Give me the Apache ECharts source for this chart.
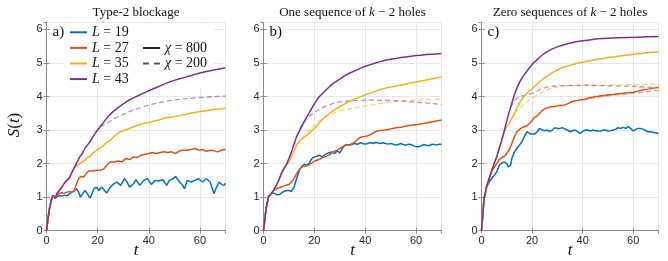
<!DOCTYPE html>
<html><head><meta charset="utf-8">
<script src="https://cdn.jsdelivr.net/npm/echarts@6/dist/echarts.min.js"></script>
<style>html,body{margin:0;padding:0;background:#fff}#c{width:668px;height:261px}</style>
</head><body><div id="c"></div>
<script>
// ---------- data (t, S(t)) ----------
const panelTitles = ['Type-2 blockage', 'One sequence of {i|k} \u2212 2 holes', 'Zero sequences of {i|k} \u2212 2 holes'];
const panelLabels = ['a)', 'b)', 'c)'];
const xTicks = [0, 20, 40, 60];
const yTicks = [0, 1, 2, 3, 4, 5, 6];
const sizes = ['L = 19', 'L = 27', 'L = 35', 'L = 43'];
const chiLabels = ['\u03c7 = 800', '\u03c7 = 200'];

// Panel a
const aL19 = [[0,0],[1,0.6],[2,0.95],[2.5,1.05],[3,1.02],[3.5,0.97],[4,1.0],[5,1.05],[6,1.03],[7,1.06],[8,1.04],[9,1.1],[10,1.15],[11,1.2],[11.8,1.25],[12.5,1.15],[13.3,1.0],[14,1.05],[15,1.2],[16,1.1],[17,0.97],[17.8,1.1],[18.5,1.25],[19.5,1.3],[20.5,1.2],[21.5,1.3],[22.5,1.22],[23.5,1.12],[24.5,1.25],[26,1.38],[27.5,1.45],[29,1.35],[30.5,1.55],[31.5,1.45],[32.5,1.3],[34,1.4],[35,1.52],[36.5,1.35],[38,1.5],[39.5,1.55],[41,1.38],[42.5,1.5],[44,1.48],[45.5,1.52],[47,1.35],[48,1.5],[49.5,1.55],[50.5,1.62],[51.5,1.5],[53,1.38],[54,1.25],[55,1.5],[56.5,1.45],[58,1.5],[59.5,1.55],[61,1.45],[62.5,1.55],[64,1.45],[65.5,1.1],[66.5,1.3],[67.5,1.45],[68.5,1.38],[69.5,1.35],[70,1.42]];
const aL27 = [[0,0],[1,0.6],[2,0.95],[2.5,1.05],[3,1.02],[3.5,0.97],[4,1.05],[5,1.12],[6,1.13],[7,1.12],[8,1.15],[9,1.17],[10,1.15],[10.8,1.18],[11.5,1.35],[12.5,1.55],[13.5,1.62],[14.5,1.6],[15.5,1.7],[16.5,1.78],[18,1.78],[19.5,1.8],[21,1.8],[22.5,1.85],[23.5,1.95],[25,2.05],[26.5,2.05],[28,2.08],[29.5,2.05],[31,2.15],[32.5,2.12],[34,2.2],[35.5,2.18],[37,2.25],[38.5,2.28],[40,2.3],[41.5,2.33],[43,2.3],[44.5,2.33],[46,2.35],[47.5,2.33],[49,2.35],[50.5,2.3],[52,2.38],[53.5,2.4],[55,2.4],[56.5,2.42],[58,2.45],[59.5,2.4],[61,2.42],[62.5,2.37],[64,2.4],[65.5,2.38],[67,2.35],[68.5,2.4],[70,2.43]];
const aL35 = [[0,0],[1,0.6],[2,0.95],[2.5,1.05],[3,1.02],[3.5,0.97],[4,1.1],[5,1.2],[6,1.3],[7,1.42],[8,1.5],[9,1.58],[10,1.75],[11,1.88],[12,1.95],[13,2.0],[14,2.05],[15,2.1],[16,2.17],[17,2.22],[18,2.3],[19,2.37],[20,2.42],[21,2.47],[22,2.52],[23,2.6],[24,2.65],[25,2.7],[26,2.78],[27,2.85],[28,2.9],[29,2.95],[30,2.98],[32,3.03],[34,3.1],[36,3.15],[38,3.2],[40,3.22],[42,3.27],[44,3.3],[46,3.35],[48,3.38],[50,3.4],[52,3.43],[54,3.46],[56,3.5],[58,3.52],[60,3.55],[62,3.57],[64,3.6],[66,3.62],[68,3.63],[70,3.65]];
const aL43 = [[0,0],[1,0.6],[2,0.95],[2.5,1.05],[3,1.02],[3.5,0.97],[4,1.1],[5,1.2],[6,1.3],[7,1.42],[8,1.5],[9,1.58],[10,1.75],[11,1.9],[12,2.05],[13,2.2],[14,2.3],[15,2.45],[16,2.55],[17,2.65],[18,2.78],[19,2.9],[20,3.0],[21,3.1],[22,3.2],[24,3.4],[26,3.55],[28,3.67],[30,3.78],[32,3.88],[34,3.96],[36,4.03],[38,4.1],[40,4.17],[42,4.24],[44,4.3],[46,4.37],[48,4.43],[50,4.48],[52,4.53],[54,4.57],[56,4.61],[58,4.66],[60,4.7],[62,4.74],[64,4.77],[66,4.8],[68,4.83],[70,4.86]];
const aL43chi200 = [[21,3.1],[22,3.14],[24,3.22],[26,3.32],[28,3.4],[30,3.47],[32,3.54],[34,3.6],[36,3.65],[38,3.7],[40,3.75],[43,3.8],[46,3.85],[50,3.9],[54,3.93],[58,3.96],[62,3.98],[66,4.0],[70,4.01]];

// Panel b
const bL19 = [[0,0],[1,0.65],[2,1.02],[3,1.1],[4,1.12],[5,1.08],[6,1.07],[7,1.12],[8,1.17],[9,1.2],[10,1.2],[11,1.17],[12,1.3],[13,1.55],[14,1.78],[15,1.92],[16,1.98],[17,1.95],[18,2.02],[19,2.15],[20,2.2],[21,2.22],[22,2.25],[23,2.2],[24,2.25],[25,2.3],[26,2.33],[27,2.35],[28,2.3],[29,2.38],[30,2.32],[31,2.45],[32,2.55],[33,2.57],[34,2.55],[35,2.58],[36,2.6],[37,2.57],[38,2.62],[39,2.6],[40,2.58],[41,2.6],[42,2.63],[43,2.6],[44,2.63],[45,2.62],[46,2.6],[47,2.62],[48,2.6],[49,2.58],[50,2.6],[51,2.58],[52,2.55],[53,2.57],[54,2.6],[55,2.57],[56,2.55],[57,2.58],[58,2.57],[59,2.53],[60,2.5],[61,2.5],[62,2.53],[63,2.57],[64,2.55],[65,2.53],[66,2.57],[67,2.58],[68,2.55],[69,2.58],[70,2.58]];
const bL27 = [[0,0],[1,0.65],[2,1.02],[3,1.1],[4,1.2],[5,1.25],[6,1.28],[7,1.3],[8,1.33],[9,1.36],[10,1.38],[11,1.45],[12,1.55],[13,1.7],[14,1.82],[15,1.9],[16,1.92],[17,1.93],[18,1.97],[19,2.02],[20,2.07],[21,2.1],[22,2.13],[23,2.17],[24,2.2],[25,2.22],[26,2.27],[27,2.32],[28,2.37],[29,2.4],[30,2.45],[31,2.5],[32,2.54],[33,2.56],[34,2.57],[35,2.6],[36,2.65],[37,2.72],[38,2.78],[39,2.8],[40,2.81],[41,2.83],[42,2.86],[43,2.9],[44,2.95],[45,2.98],[46,2.99],[48,3.0],[50,3.03],[52,3.07],[54,3.08],[56,3.12],[58,3.14],[60,3.16],[62,3.18],[64,3.21],[66,3.24],[68,3.27],[70,3.3]];
const bL35 = [[0,0],[1,0.65],[2,1.02],[3,1.1],[4,1.2],[5,1.35],[6,1.5],[7,1.7],[8,1.85],[9,1.95],[10,2.05],[11,2.2],[12,2.38],[13,2.55],[14,2.65],[15,2.72],[16,2.8],[17,2.85],[18,2.9],[19,2.98],[20,3.05],[22,3.22],[24,3.38],[26,3.5],[28,3.6],[30,3.7],[32,3.78],[34,3.86],[36,3.93],[38,3.99],[40,4.05],[42,4.1],[44,4.16],[46,4.21],[48,4.25],[50,4.28],[52,4.31],[54,4.34],[56,4.37],[58,4.4],[60,4.43],[62,4.46],[64,4.49],[66,4.52],[68,4.55],[70,4.58]];
const bL43 = [[0,0],[1,0.65],[2,1.02],[3,1.1],[4,1.2],[5,1.35],[6,1.5],[7,1.7],[8,1.85],[9,1.97],[10,2.15],[11,2.35],[12,2.58],[13,2.8],[14,2.95],[15,3.1],[16,3.25],[17,3.38],[18,3.52],[19,3.65],[20,3.78],[21,3.9],[22,4.0],[24,4.15],[26,4.3],[28,4.42],[30,4.52],[32,4.62],[34,4.7],[36,4.77],[38,4.84],[40,4.9],[42,4.95],[44,5.0],[46,5.04],[48,5.08],[50,5.11],[52,5.13],[54,5.16],[56,5.18],[58,5.2],[60,5.22],[62,5.23],[64,5.25],[66,5.26],[68,5.27],[70,5.28]];
const bL35chi200 = [[15,2.72],[16,2.83],[18,3.0],[20,3.15],[22,3.28],[24,3.38],[26,3.46],[28,3.52],[30,3.57],[33,3.62],[36,3.67],[40,3.72],[45,3.78],[50,3.84],[55,3.87],[60,3.89],[65,3.91],[70,3.92]];
const bL43chi200 = [[13,2.8],[14,3.0],[15,3.15],[16,3.27],[18,3.42],[20,3.53],[22,3.62],[24,3.7],[26,3.76],[28,3.81],[30,3.84],[33,3.86],[36,3.88],[40,3.89],[45,3.89],[50,3.88],[55,3.86],[60,3.83],[65,3.8],[70,3.76]];

// Panel c
const cL19 = [[0,0],[1,0.95],[2,1.3],[3,1.45],[4,1.55],[5,1.65],[6,1.75],[7,1.95],[8,2.02],[9,2.05],[10,2.0],[10.5,1.9],[11,1.85],[11.5,1.95],[12,2.15],[13,2.35],[14,2.45],[15,2.55],[16,2.65],[17,2.82],[18,2.95],[19,2.9],[19.5,2.85],[20,2.88],[21,2.88],[22,2.95],[23,3.05],[24,3.0],[25,2.98],[26,3.0],[27,2.95],[28,3.0],[29,3.07],[30,3.05],[31,3.05],[32,3.07],[33,3.03],[34,3.0],[35,2.95],[36,2.98],[37,3.0],[38,2.95],[39,2.9],[40,2.95],[41,3.0],[42,3.0],[43,2.97],[44,3.0],[45,2.98],[46,2.98],[47,2.96],[48,3.0],[49,3.0],[50,2.97],[51,2.98],[52,3.0],[53,3.02],[54,3.07],[55,3.05],[56,3.08],[57,3.05],[58,3.1],[59,3.05],[60,2.97],[61,3.02],[62,3.05],[63,3.05],[64,3.02],[65,2.98],[66,2.95],[67,2.95],[68,2.93],[69,2.92],[70,2.9]];
const cL27 = [[0,0],[1,0.95],[2,1.3],[3,1.55],[4,1.75],[5,1.88],[6,2.0],[7,2.12],[8,2.18],[9,2.22],[10,2.3],[11,2.42],[12,2.6],[13,2.8],[14,2.95],[15,3.02],[16,3.07],[17,3.1],[18,3.13],[19,3.2],[20,3.28],[21,3.38],[22,3.42],[23,3.5],[24,3.58],[25,3.63],[26,3.66],[27,3.68],[28,3.7],[29,3.7],[30,3.72],[31,3.74],[32,3.73],[33,3.75],[34,3.78],[35,3.82],[36,3.85],[37,3.87],[38,3.88],[39,3.9],[40,3.9],[41,3.92],[42,3.95],[43,3.97],[44,3.98],[45,4.0],[46,4.0],[47,4.02],[48,4.03],[49,4.03],[50,4.05],[52,4.06],[54,4.08],[56,4.1],[58,4.11],[60,4.13],[62,4.16],[64,4.2],[66,4.22],[68,4.25],[70,4.27]];
const cL35 = [[0,0],[1,0.95],[2,1.3],[3,1.55],[4,1.78],[5,2.0],[6,2.2],[7,2.45],[8,2.7],[9,2.95],[10,3.12],[11,3.2],[12,3.35],[13,3.5],[14,3.65],[15,3.8],[16,3.92],[17,4.02],[18,4.1],[19,4.17],[20,4.23],[21,4.3],[22,4.37],[23,4.44],[24,4.5],[25,4.56],[26,4.61],[27,4.66],[28,4.71],[29,4.75],[30,4.79],[32,4.86],[34,4.91],[36,4.95],[38,4.99],[40,5.02],[42,5.05],[44,5.08],[46,5.11],[48,5.13],[50,5.16],[52,5.18],[54,5.2],[56,5.22],[58,5.24],[60,5.26],[62,5.28],[64,5.29],[66,5.31],[68,5.32],[70,5.33]];
const cL43 = [[0,0],[1,0.95],[2,1.3],[3,1.55],[4,1.78],[5,2.0],[6,2.2],[7,2.45],[8,2.7],[9,2.98],[10,3.28],[11,3.55],[12,3.8],[13,4.05],[14,4.25],[15,4.42],[16,4.55],[17,4.66],[18,4.76],[19,4.86],[20,4.95],[21,5.03],[22,5.1],[23,5.17],[24,5.23],[25,5.29],[26,5.34],[27,5.38],[28,5.42],[30,5.48],[32,5.53],[34,5.57],[36,5.61],[38,5.64],[40,5.66],[42,5.68],[44,5.7],[46,5.72],[48,5.73],[50,5.74],[54,5.75],[58,5.76],[62,5.77],[66,5.78],[70,5.79]];
const cL27chi200 = [[40,3.9],[45,3.97],[50,4.02],[55,4.06],[60,4.1],[65,4.14],[70,4.18]];
const cL35chi200 = [[13,3.5],[14,3.58],[15,3.65],[16,3.72],[17,3.78],[18,3.85],[19,3.9],[20,3.96],[22,4.05],[24,4.13],[26,4.2],[28,4.26],[30,4.29],[35,4.32],[40,4.33],[45,4.34],[50,4.34],[55,4.35],[60,4.35],[65,4.36],[70,4.37]];
const cL43chi200 = [[11.5,3.68],[12.5,3.82],[13.5,3.92],[15,4.0],[17,4.03],[19,4.07],[21,4.12],[23,4.2],[25,4.26],[27,4.3],[30,4.32],[35,4.33],[40,4.34],[45,4.33],[50,4.32],[55,4.31],[60,4.3],[65,4.28],[70,4.27]];

// ---------- styling / layout ----------
const colors = ['#0072BD', '#D95319', '#EDB120', '#7E2F8E'];
const grids = [
  {left: 46.5, top: 22.7, width: 179, height: 208},
  {left: 263.5, top: 22.7, width: 178, height: 208},
  {left: 481.5, top: 22.7, width: 177, height: 208}
];
const solidData = [[aL19, aL27, aL35, aL43], [bL19, bL27, bL35, bL43], [cL19, cL27, cL35, cL43]];
const dashedData = [
  [[3, aL43chi200]],
  [[2, bL35chi200], [3, bL43chi200]],
  [[1, cL27chi200], [2, cL35chi200], [3, cL43chi200]]
];

const AX = '#8a8a8a', LBL = '#262626';
const tickFont = 'Liberation Sans, Arial, sans-serif';
const serif = 'Liberation Serif, DejaVu Serif, serif';

const xAxes = [], yAxes = [], series = [];
grids.forEach((g, i) => {
  const common = {gridIndex: i, type: 'value',
    axisLine: {show: true, lineStyle: {color: AX, width: 1}},
    axisTick: {show: true, inside: true, length: 3, lineStyle: {color: AX}}};
  xAxes.push(Object.assign({}, common, {min: 0, max: 70, interval: 20, position: 'bottom',
    axisLabel: {show: true, color: LBL, fontSize: 11, fontFamily: tickFont, margin: 5, showMaxLabel: false},
    splitLine: {show: true, lineStyle: {color: '#e6e6e6', width: 1}}}));
  xAxes.push(Object.assign({}, common, {min: 0, max: 70, interval: 20, position: 'top',
    axisLabel: {show: false}, splitLine: {show: false}}));
  yAxes.push(Object.assign({}, common, {min: 0, max: 6.2, interval: 1, position: 'left',
    axisLabel: {show: true, color: LBL, fontSize: 11, fontFamily: tickFont, margin: 4, showMaxLabel: false},
    splitLine: {show: true, lineStyle: {color: '#e6e6e6', width: 1}}}));
  yAxes.push(Object.assign({}, common, {min: 0, max: 6.2, interval: 1, position: 'right',
    axisLabel: {show: false}, splitLine: {show: false}}));
});

grids.forEach((g, i) => {
  dashedData[i].forEach(([ci, d]) => {
    series.push({type: 'line', name: sizes[ci] + ' (\u03c7=200)', xAxisIndex: 2 * i, yAxisIndex: 2 * i,
      data: d, showSymbol: false, symbol: 'none', silent: true, z: 2,
      lineStyle: {color: colors[ci], width: 1.3, type: [5, 3], opacity: 0.55}});
  });
  solidData[i].forEach((d, ci) => {
    series.push({type: 'line', name: sizes[ci], xAxisIndex: 2 * i, yAxisIndex: 2 * i,
      data: d, showSymbol: false, symbol: 'none', silent: true, z: 3,
      color: colors[ci], lineStyle: {color: colors[ci], width: 1.5}});
  });
});
// legend-only entries for bond dimension
series.push({type: 'line', name: chiLabels[0], xAxisIndex: 0, yAxisIndex: 0, data: [], symbol: 'none',
  color: '#222', lineStyle: {color: '#222', width: 1.5}});
series.push({type: 'line', name: chiLabels[1], xAxisIndex: 0, yAxisIndex: 0, data: [], symbol: 'none',
  color: '#555', lineStyle: {color: '#555', width: 1, type: [6, 5]}});

const legendText = {color: '#111', fontSize: 14, fontFamily: serif, lineHeight: 14,
  rich: {i: {fontStyle: 'italic', fontSize: 14, fontFamily: serif, lineHeight: 14, color: '#111'},
         n: {fontSize: 14, fontFamily: serif, lineHeight: 14, color: '#111'}}};
const legendFmt = name => '{i|' + name.charAt(0) + '}{n|' + name.slice(1) + '}';

const graphics = [];
// white legend box (covers grid lines only; curves are drawn above it)
graphics.push({type: 'rect', z: 1, silent: true,
  shape: {x: 64, y: 24.5, width: 150, height: 63}, style: {fill: '#fff'}});
grids.forEach((g, i) => {
  graphics.push({type: 'text', x: g.left + g.width / 2, y: 12.5, z: 5,
    style: {text: panelTitles[i], fill: '#111', fontSize: 13, fontFamily: serif, align: 'center', verticalAlign: 'middle',
      rich: {i: {fontStyle: 'italic', fontSize: 13, fontFamily: serif, fill: '#111'}}}});
  graphics.push({type: 'text', x: g.left + 4, y: 32.5, z: 1,
    style: {text: panelLabels[i], fill: '#111', fontSize: 15, fontFamily: serif, align: 'left', verticalAlign: 'middle',
      backgroundColor: '#fff', padding: [1, 2, 1, 2]}});
  graphics.push({type: 'text', x: g.left + g.width / 2, y: 251, z: 5,
    style: {text: 't', fill: '#111', fontSize: 17, fontStyle: 'italic', fontFamily: serif, align: 'center', verticalAlign: 'middle'}});
});
graphics.push({type: 'text', x: 15, y: 125, rotation: Math.PI / 2, z: 5,
  style: {text: '{i|S}{n|(}{i|t}{n|)}', fill: '#111', fontSize: 17, fontFamily: serif, align: 'center', verticalAlign: 'middle',
    rich: {i: {fontStyle: 'italic', fontSize: 17, fontFamily: serif, fill: '#111'}, n: {fontSize: 17, fontFamily: serif, fill: '#111'}}}});

const legendBase = {orient: 'vertical', padding: 0, itemGap: 1.6, itemWidth: 17, itemHeight: 14,
  selectedMode: false, formatter: legendFmt, textStyle: legendText, itemStyle: {opacity: 0}, z: 6};

const chart = echarts.init(document.getElementById('c'), null, {renderer: 'canvas'});
chart.setOption({
  animation: false,
  backgroundColor: '#fff',
  grid: grids,
  xAxis: xAxes,
  yAxis: yAxes,
  legend: [
    Object.assign({data: sizes, left: 69, top: 25.3}, legendBase),
    Object.assign({data: chiLabels, left: 142, top: 41}, legendBase)
  ],
  series: series,
  graphic: graphics
});
</script></body></html>
